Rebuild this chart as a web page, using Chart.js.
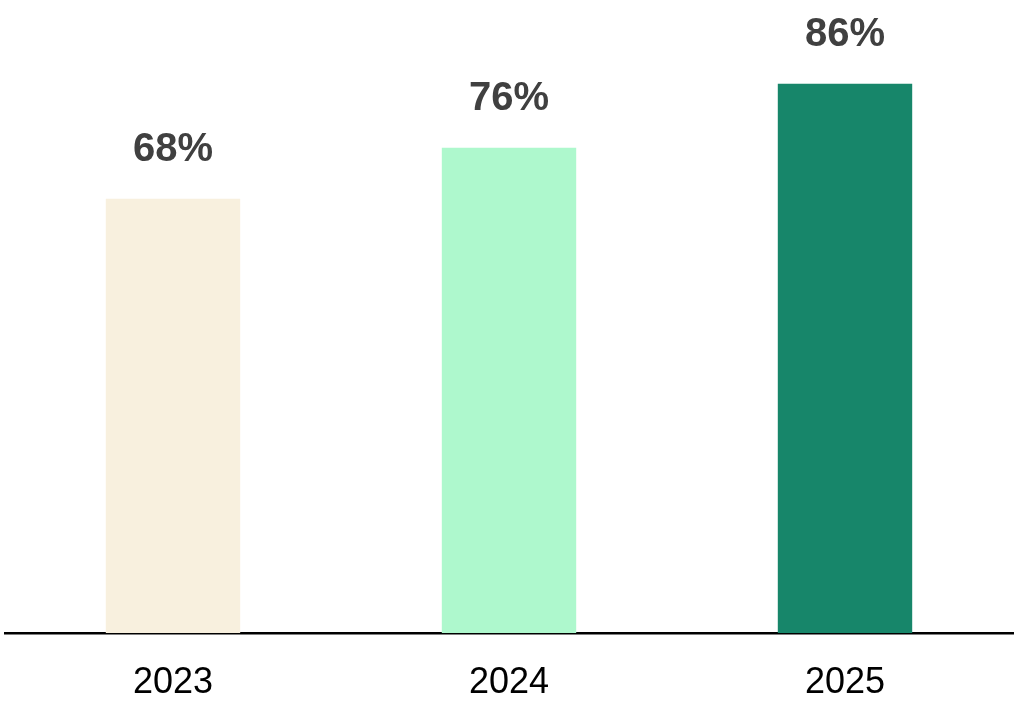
<!DOCTYPE html>
<html>
<head>
<meta charset="utf-8">
<script src="https://cdn.jsdelivr.net/npm/chart.js@4"></script>
<style>
  html, body { margin: 0; padding: 0; background: #ffffff; }
  #wrap { width: 1017px; height: 704px; position: relative; }
</style>
</head>
<body>
<div id="wrap"><canvas id="c" width="1017" height="704"></canvas></div>
<script>
const categories = ['2023', '2024', '2025'];
const values = [68, 76, 86];
const valueLabels = ['68%', '76%', '86%'];
const barColors = ['#F8F0DE', '#AEF8CD', '#17866A'];

const labelPlugin = {
  id: 'valueLabels',
  afterDatasetsDraw(chart) {
    const ctx = chart.ctx;
    const meta = chart.getDatasetMeta(0);
    ctx.save();
    ctx.font = 'bold 40px "Liberation Sans", Arial, sans-serif';
    ctx.fillStyle = '#404040';
    ctx.textAlign = 'center';
    ctx.textBaseline = 'alphabetic';
    meta.data.forEach((bar, i) => {
      ctx.fillText(valueLabels[i], bar.x, bar.y - 38);
    });
    ctx.restore();
  }
};

new Chart(document.getElementById('c'), {
  type: 'bar',
  data: {
    labels: categories,
    datasets: [{
      data: values,
      backgroundColor: barColors,
      borderWidth: 0,
      barPercentage: 0.4,
      categoryPercentage: 1.0
    }]
  },
  options: {
    responsive: false,
    animation: false,
    devicePixelRatio: 1,
    layout: { padding: { left: 5, right: 4, top: 20, bottom: 0 } },
    plugins: { legend: { display: false }, tooltip: { enabled: false } },
    scales: {
      x: {
        grid: { display: false, drawTicks: false },
        border: { display: true, color: '#000000', width: 2.5 },
        ticks: {
          color: '#000000',
          padding: 28,
          font: { family: '"Liberation Sans", Arial, sans-serif', size: 36 }
        },
        afterFit(scale) { scale.height = 71; }
      },
      y: {
        display: false,
        min: 0,
        max: 96
      }
    }
  },
  plugins: [labelPlugin]
});
</script>
</body>
</html>
